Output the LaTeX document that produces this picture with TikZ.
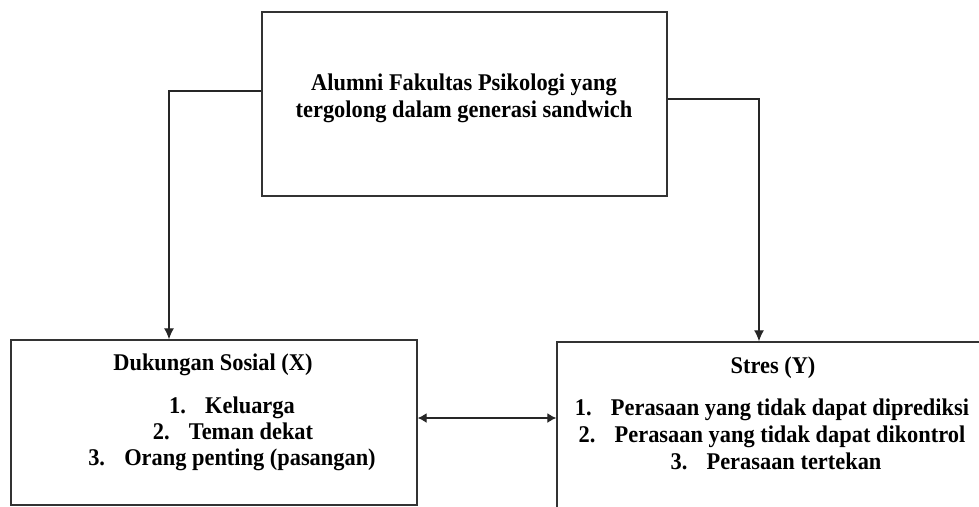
\documentclass[tikz,border=0pt]{standalone}
\usepackage{fontspec}
\usepackage{graphicx}
\setmainfont{Liberation Serif}
\usetikzlibrary{arrows.meta}

\tikzset{
    box/.style={draw=black!80, line width=1.4pt, inner sep=0pt},
    lbl/.style={anchor=base, inner sep=0pt, font=\fontsize{22.4}{26}\selectfont\bfseries},
    link/.style={line width=1.3pt, draw=black!85, -{Latex[length=11pt,width=10pt]}},
    twoway/.style={line width=1.3pt, draw=black!85, {Latex[length=9pt,width=10pt]}-{Latex[length=9pt,width=10pt]}},
}
\newcommand{\tall}[1]{\scalebox{1}[1.07]{#1}}
\newcommand{\numitem}[2]{\tall{\makebox[36pt][l]{#1}#2}}

\begin{document}
\begin{tikzpicture}[x=1pt, y=-1pt]
                \clip (0, 0) rectangle (979, 506);

                \node[box, minimum width=405pt, minimum height=184pt] (alumni) at (464.5, 104) {};
                \node[box, minimum width=406pt, minimum height=165pt] (xbox) at (214, 422.5) {};
                \node[box, minimum width=432pt, minimum height=178pt] (ybox) at (773, 431) {};

                \node[lbl] (alumnione) at (464, 90.5) {\tall{Alumni Fakultas Psikologi yang}};
                \node[lbl] (alumnitwo) at (464, 117) {\tall{tergolong dalam generasi sandwich}};

                \node[lbl] (xtitle) at (213, 370) {\tall{Dukungan Sosial (X)}};
                \node[lbl] (xone) at (232, 413) {\numitem{1.}{Keluarga}};
                \node[lbl] (xtwo) at (233, 439) {\numitem{2.}{Teman dekat}};
                \node[lbl] (xthree) at (232, 465) {\numitem{3.}{Orang penting (pasangan)}};

                \node[lbl] (ytitle) at (773, 373) {\tall{Stres (Y)}};
                \node[lbl] (yone) at (772, 415) {\numitem{1.}{Perasaan yang tidak dapat diprediksi}};
                \node[lbl] (ytwo) at (772, 442) {\numitem{2.}{Perasaan yang tidak dapat dikontrol}};
                \node[lbl] (ythree) at (776, 469) {\numitem{3.}{Perasaan tertekan}};

                \coordinate (lturn) at (169, 91);
                \coordinate (rturn) at (759, 99);
                \coordinate (mid) at (487, 418);

                \draw[link] (alumni.west |- lturn) -- (lturn) -- (lturn |- xbox.north);
                \draw[link] (alumni.east |- rturn) -- (rturn) -- (rturn |- ybox.north);
                \draw[twoway] (xbox.east |- mid) -- (ybox.west |- mid);
\end{tikzpicture}
\end{document}
